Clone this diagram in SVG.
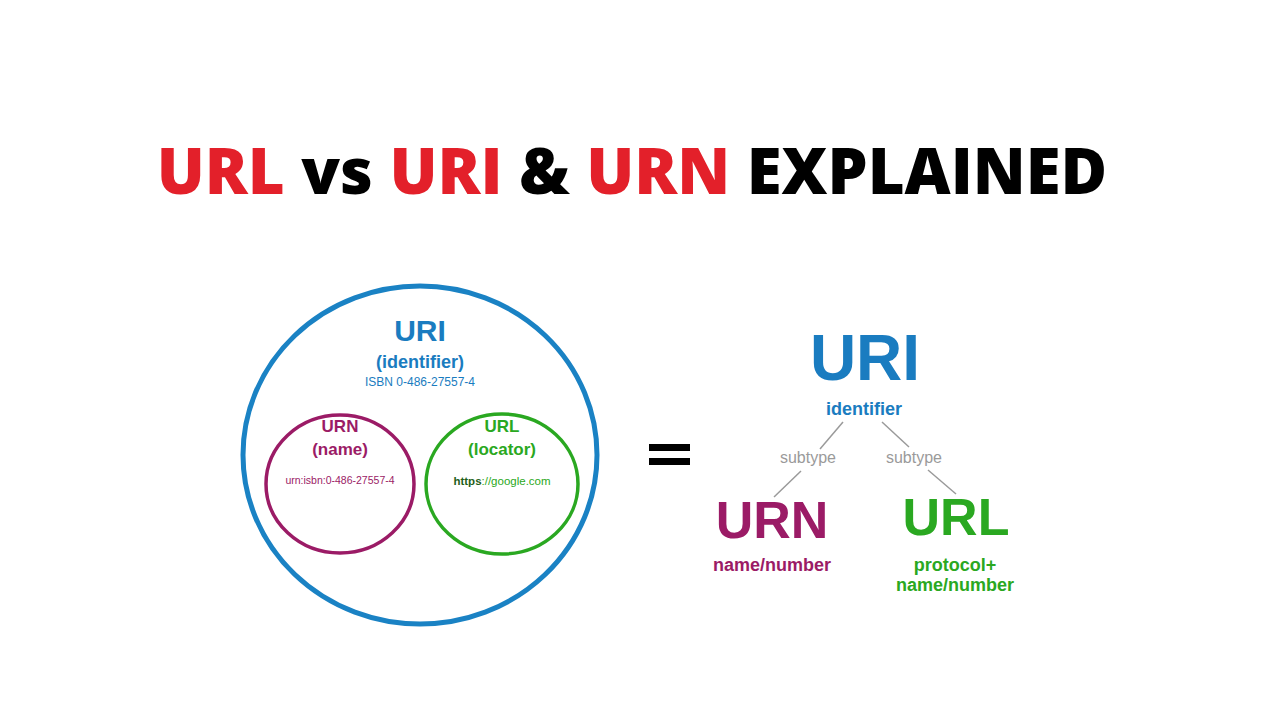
<svg xmlns="http://www.w3.org/2000/svg" width="1280" height="720" viewBox="0 0 1280 720">
<style>
text{font-family:"Liberation Sans",Arial,sans-serif;text-anchor:middle;font-weight:bold}
.t{font-family:"Open Sans","Liberation Sans",sans-serif;font-weight:800;font-size:63.5px}
.r{fill:#e3202a}.k{fill:#000}
.b{fill:#1a7cc0}.m{fill:#9b1b66}.g{fill:#2aa821}
.n{font-weight:normal}
.gy{fill:#9a9a9a;font-weight:normal;font-size:16px}
.ln{stroke:#9a9a9a;stroke-width:1.5;fill:none}
</style>
<rect width="1280" height="720" fill="#fff"/>
<g id="title"><text class="t" x="632" y="194"><tspan class="r">URL</tspan><tspan class="k"> vs </tspan><tspan class="r">URI</tspan><tspan class="k"> &amp; </tspan><tspan class="r">URN</tspan><tspan class="k"> EXPLAINED</tspan></text></g>
<g id="uri-circle">
<ellipse cx="420" cy="455" rx="177" ry="169" fill="none" stroke="#1a82c4" stroke-width="5"/>
<text class="b" x="420" y="341" font-size="30">URI</text>
<text class="b" x="420" y="368" font-size="18">(identifier)</text>
<text class="b n" x="420" y="386" font-size="12">ISBN 0-486-27557-4</text>
</g>
<g id="urn-circle">
<ellipse cx="340" cy="484" rx="74" ry="69" fill="none" stroke="#9b1b66" stroke-width="3.5"/>
<text class="m" x="340" y="432" font-size="17">URN</text>
<text class="m" x="340" y="455" font-size="17">(name)</text>
<text class="m n" x="340" y="484" font-size="10.5">urn:isbn:0-486-27557-4</text>
</g>
<g id="url-circle">
<ellipse cx="502" cy="484" rx="76" ry="70" fill="none" stroke="#2aa821" stroke-width="3.5"/>
<text class="g" x="502" y="432" font-size="17">URL</text>
<text class="g" x="502" y="455" font-size="17">(locator)</text>
<text class="g n" x="502" y="485" font-size="11.5"><tspan style="font-weight:bold" fill="#1f5f1a">https</tspan>://google.com</text>
</g>
<g id="equals"><rect x="649" y="444" width="41" height="7" fill="#000"/><rect x="649" y="458" width="41" height="7" fill="#000"/></g>
<g id="connectors">
<line class="ln" x1="843" y1="422" x2="820" y2="449"/>
<line class="ln" x1="882" y1="422" x2="909" y2="447"/>
<line class="ln" x1="801" y1="471" x2="774" y2="497"/>
<line class="ln" x1="928" y1="470" x2="956" y2="494"/>
</g>
<g id="uri-node">
<text class="b" x="865" y="380" font-size="64">URI</text>
<text class="b" x="864" y="415" font-size="18">identifier</text>
</g>
<g id="subtypes">
<text class="gy" x="808" y="463">subtype</text>
<text class="gy" x="914" y="463">subtype</text>
</g>
<g id="urn-node">
<text class="m" x="772" y="538" font-size="52">URN</text>
<text class="m" x="772" y="571" font-size="18">name/number</text>
</g>
<g id="url-node">
<text class="g" x="956" y="535" font-size="52">URL</text>
<text class="g" x="955" y="571" font-size="18">protocol+</text>
<text class="g" x="955" y="591" font-size="18">name/number</text>
</g>
</svg>
